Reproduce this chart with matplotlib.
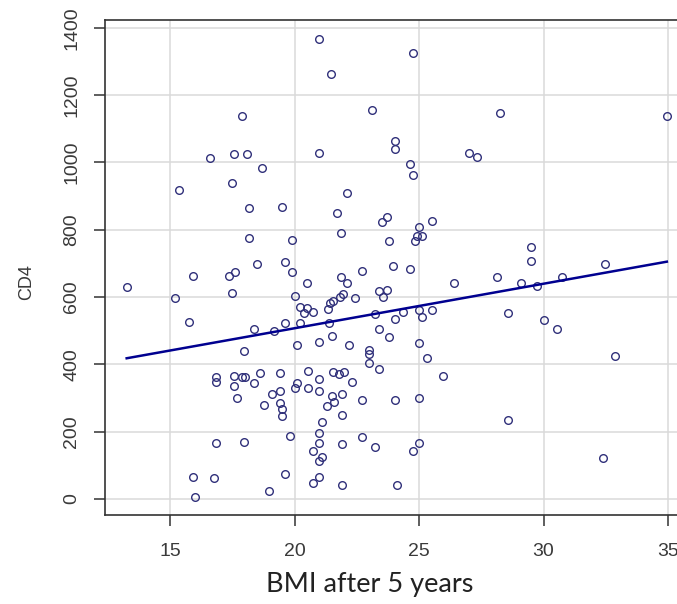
import numpy as np
import matplotlib
matplotlib.use("Agg")
import matplotlib.pyplot as plt

# ---------------- DATA ----------------

bmi = [
    17.88, 16.61, 17.57, 18.08, 18.69,
    20.98, 24.75, 21.48, 23.13, 24.04, 24.04, 20.98, 27.02, 27.32, 24.64, 24.75,
    28.25, 34.95,
    17.48, 15.37, 18.19, 19.50, 18.19, 19.91, 18.48, 19.62, 19.91, 15.91, 17.37,
    17.60, 13.26, 15.20, 17.48, 20.02, 20.20, 15.78, 18.39, 19.18, 19.62,
    22.10, 21.69, 23.73, 23.50, 25.51, 24.99, 24.91, 25.11, 24.84, 21.88, 23.81,
    22.70, 23.94, 24.64, 26.41, 20.51, 21.88, 22.10, 23.41, 23.73, 23.54, 22.43,
    21.96, 21.83, 21.56, 21.43, 21.36, 20.49, 20.39, 20.76, 20.22, 21.40, 23.23,
    24.04, 24.35, 24.99, 25.11, 25.51, 23.41, 21.49, 23.81, 20.11, 20.98, 22.20,
    24.99,
    29.51, 29.51, 28.14, 32.46, 29.10, 29.73, 30.73, 28.56, 30.03, 30.53,
    17.97, 16.86, 16.86, 17.57, 17.88, 18.01, 17.58, 18.61, 19.42, 18.39, 19.42,
    19.10, 20.09, 20.02, 17.68, 18.79, 19.42, 19.51, 19.51, 19.82, 16.86, 17.97,
    15.91, 16.77, 19.62, 18.99, 16.00,
    23.00, 23.00, 23.00, 23.41, 25.31, 25.97, 20.53, 21.56, 21.80, 22.00, 20.98,
    22.30, 20.53, 20.98, 21.49, 21.90, 21.60, 21.29, 22.72, 24.04, 24.99, 21.90,
    21.09, 20.98, 20.98, 20.76, 21.09, 20.98, 21.90, 22.72, 23.23, 24.75, 25.01,
    20.98, 20.76, 21.90, 24.13,
    32.87, 28.56, 32.37,
]

cd4 = [
    1138, 1014, 1024, 1024, 984,
    1367, 1324, 1262, 1156, 1064, 1039, 1028, 1028, 1017, 995, 963,
    1148, 1138,
    940, 918, 863, 867, 776, 768, 699, 703, 674, 662, 662,
    674, 630, 597, 611, 604, 571, 527, 505, 498, 524,
    908, 849, 839, 824, 827, 809, 782, 782, 767, 791, 766,
    678, 692, 682, 641, 641, 660, 641, 617, 621, 601, 598,
    609, 599, 588, 581, 564, 566, 552, 556, 524, 522, 550,
    535, 555, 562, 542, 562, 505, 485, 480, 458, 466, 456,
    462,
    750, 707, 660, 699, 641, 633, 660, 553, 531, 506,
    440, 363, 348, 366, 363, 363, 337, 373, 374, 345, 322,
    312, 344, 331, 301, 279, 284, 267, 247, 187, 165, 170,
    66, 63, 74, 24, 5,
    443, 432, 403, 385, 418, 366, 381, 378, 370, 378, 356,
    349, 331, 322, 307, 312, 287, 276, 294, 294, 301, 250,
    228, 195, 167, 144, 126, 114, 162, 183, 155, 144, 165,
    64, 48, 42, 42,
    425, 235, 121,
]

# fitted line
fit_intercept = 242.6
fit_slope = 13.23

x_ticks = [15, 20, 25, 30, 35]
y_ticks = [0, 200, 400, 600, 800, 1000, 1200, 1400]

# ---------------- PLOT ----------------

plt.rcParams["font.family"] = ["Liberation Sans", "DejaVu Sans"]

fig = plt.figure(figsize=(6.77, 6.04), dpi=100)
ax = fig.add_axes([0.1551, 0.1474, 0.8597, 0.8195])

ax.set_xlim(12.39, 35.76)
ax.set_ylim(-47.5, 1423)

ax.set_xticks(x_ticks)
ax.set_yticks(y_ticks)
ax.grid(True, color="#dadada", linewidth=1.1)
ax.set_axisbelow(True)

ax.plot(bmi, cd4, linestyle="none", marker="o", markersize=5.5,
        markerfacecolor="none", markeredgecolor="#30307a",
        markeredgewidth=1.0, zorder=3)

xs = np.array([min(bmi), max(bmi)])
ax.plot(xs, fit_intercept + fit_slope * xs, color="#000090",
        linewidth=1.8, zorder=4)

for side in ["top", "bottom", "left", "right"]:
    ax.spines[side].set_color("#333333")
    ax.spines[side].set_linewidth(1.2)

ax.tick_params(axis="both", direction="out", length=8, width=1.1,
               color="#333333", labelsize=14, labelcolor="#3a3a3a", pad=10)
ax.tick_params(axis="x", pad=12)
ax.tick_params(axis="y", labelrotation=90)
for lab in ax.get_yticklabels():
    lab.set_va("center")

ax.set_ylabel("CD4", fontsize=13, color="#3a3a3a")
ax.yaxis.set_label_coords(-0.12, 0.47)
ax.set_xlabel("BMI after 5 years", fontsize=19.5, family="Lato",
              color="#222222")
ax.xaxis.set_label_coords(0.455, -0.115)

fig.savefig("out.png", dpi=100)
